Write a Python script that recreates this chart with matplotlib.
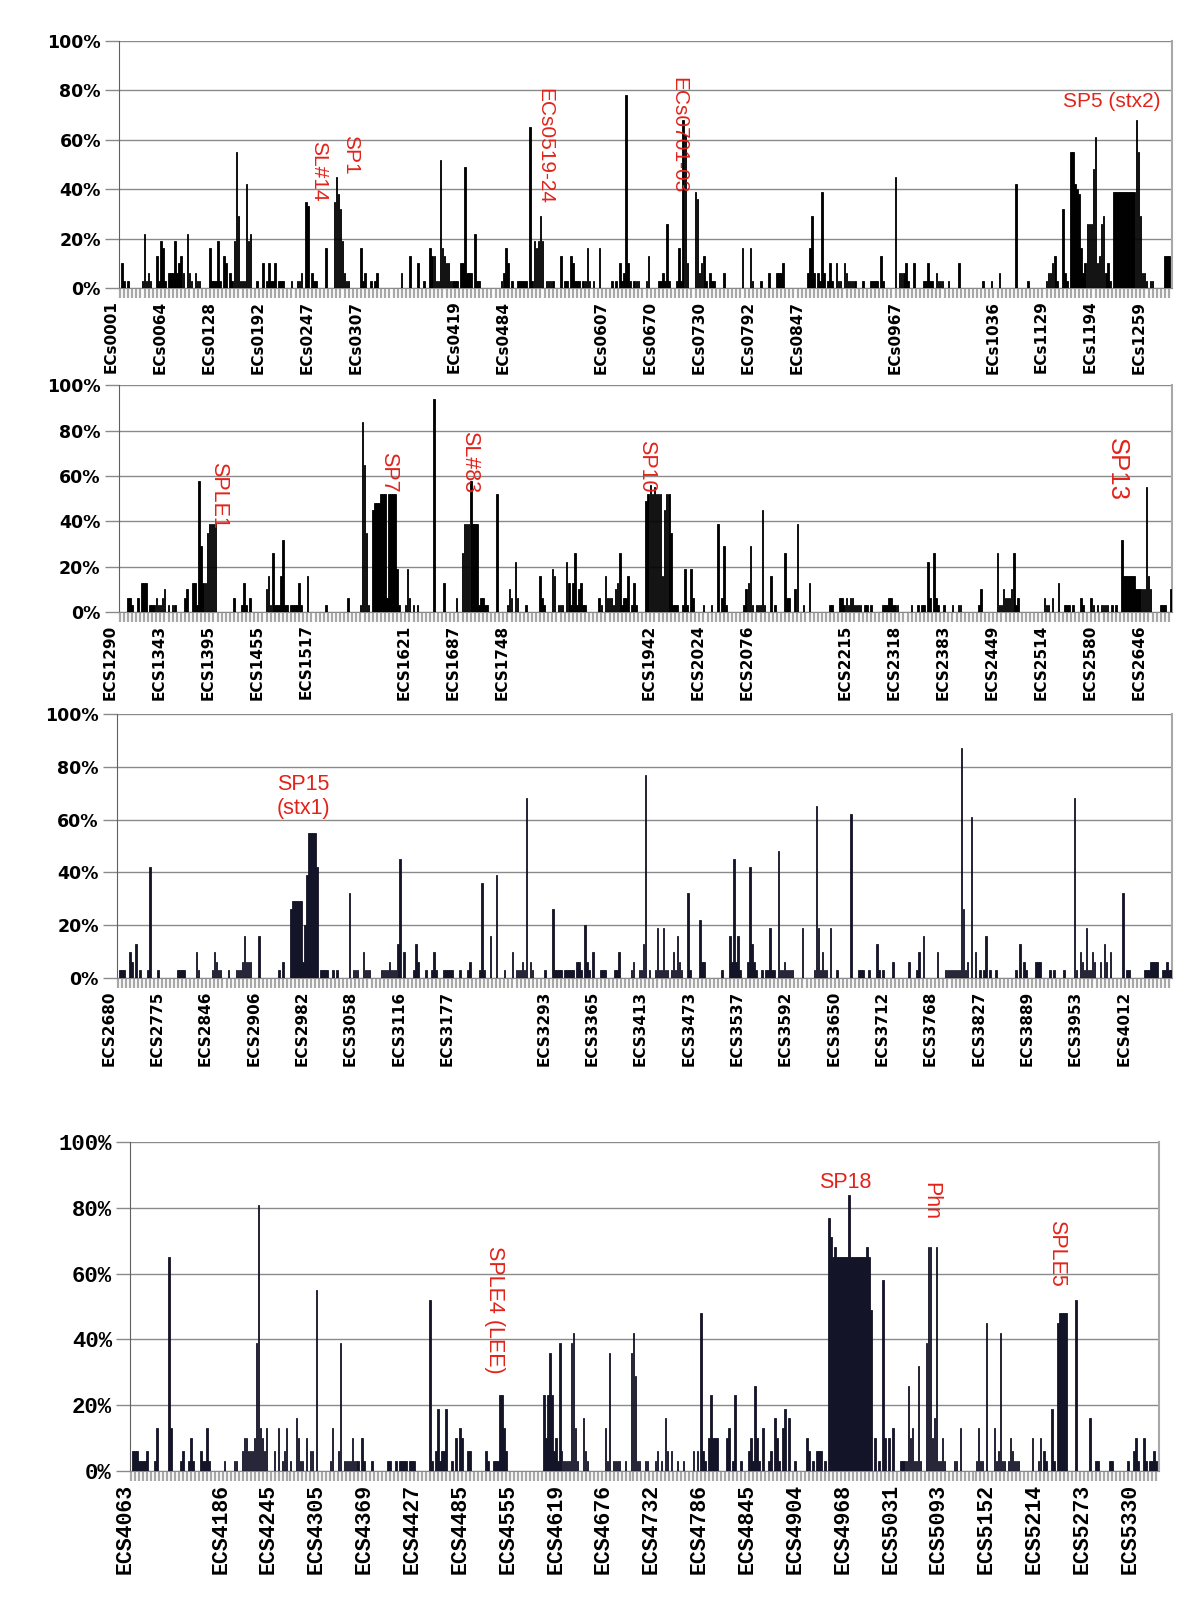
import matplotlib
matplotlib.use("Agg")
import matplotlib.pyplot as plt
from matplotlib.ticker import MultipleLocator
from matplotlib.transforms import ScaledTranslation

pct_ticks = [0, 20, 40, 60, 80, 100]
slot = 24  # categories between two label slots

p1_labels = ["ECs0001", "ECs0064", "ECs0128", "ECs0192", "ECs0247", "ECs0307", "", "ECs0419",
             "ECs0484", "", "ECs0607", "ECs0670", "ECs0730", "ECs0792", "ECs0847", "", "ECs0967",
             "", "ECs1036", "ECs1129", "ECs1194", "ECs1259"]
p2_labels = ["ECS1290", "ECS1343", "ECS1395", "ECS1455", "ECS1517", "", "ECS1621", "ECS1687",
             "ECS1748", "", "", "ECS1942", "ECS2024", "ECS2076", "", "ECS2215", "ECS2318",
             "ECS2383", "ECS2449", "ECS2514", "ECS2580", "ECS2646"]
p3_labels = ["ECS2680", "ECS2775", "ECS2846", "ECS2906", "ECS2982", "ECS3058", "ECS3116", "ECS3177",
             "", "ECS3293", "ECS3365", "ECS3413", "ECS3473", "ECS3537", "ECS3592", "ECS3650",
             "ECS3712", "ECS3768", "ECS3827", "ECS3889", "ECS3953", "ECS4012"]
p4_labels = ["ECS4063", "", "ECS4186", "ECS4245", "ECS4305", "ECS4369", "ECS4427", "ECS4485",
             "ECS4555", "ECS4619", "ECS4676", "ECS4732", "ECS4786", "ECS4845", "ECS4904", "ECS4968",
             "ECS5031", "ECS5093", "ECS5152", "ECS5214", "ECS5273", "ECS5330"]

# (category index, percent)
p1_bars = [(1, 10), (2, 3), (4, 3), (11, 3), (12, 22), (13, 3), (14, 6), (15, 3), (18, 13), (19, 3),
           (20, 19), (21, 16), (22, 3), (24, 6), (25, 6), (26, 6), (27, 19), (28, 6), (29, 10), (30, 13),
           (31, 6), (33, 22), (34, 6), (35, 3), (37, 6), (38, 3), (39, 3), (44, 16), (45, 3), (46, 3),
           (47, 3), (48, 19), (49, 3), (51, 13), (52, 10), (54, 6), (55, 3), (56, 19), (57, 55), (58, 29),
           (59, 3), (60, 3), (61, 3), (62, 42), (63, 19), (64, 22), (67, 3), (70, 10), (72, 3), (73, 10),
           (74, 3), (75, 3), (76, 10), (78, 3), (79, 3), (80, 3), (84, 3), (87, 3), (88, 3), (89, 6),
           (91, 35), (92, 33), (94, 6), (95, 3), (96, 3), (101, 16), (105, 35), (106, 45), (107, 38),
           (108, 32), (109, 19), (110, 6), (111, 3), (112, 3), (118, 16), (119, 3), (120, 6), (123, 3),
           (125, 3), (126, 6), (138, 6), (142, 13), (146, 10), (149, 3), (152, 16), (153, 13), (154, 13),
           (155, 3), (156, 3), (157, 52), (158, 16), (159, 13), (160, 10), (161, 10), (162, 3), (163, 3),
           (164, 3), (165, 3), (167, 10), (168, 10), (169, 49), (170, 6), (171, 6), (172, 6), (174, 22),
           (175, 3), (176, 3), (187, 3), (188, 6), (189, 16), (190, 10), (192, 3), (195, 3), (196, 3),
           (197, 3), (198, 3), (199, 3), (201, 65), (202, 3), (203, 19), (204, 16), (205, 19), (206, 29),
           (207, 19), (209, 3), (210, 3), (211, 3), (212, 3), (216, 13), (218, 3), (219, 3), (221, 13),
           (222, 10), (223, 3), (224, 3), (225, 3), (227, 3), (228, 3), (229, 16), (230, 3), (232, 3),
           (235, 16), (241, 3), (243, 3), (245, 10), (246, 3), (247, 6), (248, 78), (249, 10), (250, 3),
           (252, 3), (253, 3), (254, 3), (258, 3), (259, 13), (264, 3), (265, 3), (266, 6), (267, 3),
           (268, 26), (269, 3), (273, 3), (274, 16), (275, 3), (276, 68), (277, 62), (278, 10), (282, 39),
           (283, 36), (284, 6), (285, 10), (286, 13), (287, 3), (289, 6), (290, 3), (291, 3), (296, 6),
           (305, 16), (309, 16), (310, 3), (314, 3), (318, 6), (322, 6), (323, 6), (324, 6), (325, 10),
           (337, 6), (338, 16), (339, 29), (340, 6), (342, 6), (343, 3), (344, 39), (345, 6), (347, 3),
           (348, 10), (349, 3), (351, 10), (352, 3), (353, 3), (355, 10), (356, 6), (357, 3), (358, 3),
           (359, 3), (360, 3), (364, 3), (368, 3), (369, 3), (370, 3), (371, 3), (373, 13), (374, 3),
           (380, 45), (382, 6), (383, 6), (384, 6), (385, 10), (386, 3), (389, 10), (394, 3), (395, 3),
           (396, 10), (397, 3), (398, 3), (400, 6), (401, 3), (402, 3), (403, 3), (406, 3), (411, 10),
           (423, 3), (427, 3), (431, 6), (439, 42), (445, 3), (454, 3), (455, 6), (456, 6), (457, 10),
           (458, 13), (459, 3), (462, 32), (463, 6), (464, 3), (466, 55), (467, 55), (468, 42), (469, 40),
           (470, 38), (471, 16), (472, 6), (473, 10), (474, 26), (475, 26), (476, 26), (477, 48), (478, 61),
           (479, 10), (480, 13), (481, 26), (482, 29), (483, 6), (484, 10), (485, 3), (487, 39), (488, 39),
           (489, 39), (490, 39), (491, 39), (492, 39), (493, 39), (494, 39), (495, 39), (496, 39), (497, 39),
           (498, 68), (499, 55), (500, 29), (501, 6), (502, 6), (503, 3), (505, 3), (506, 3), (512, 13),
           (513, 13), (514, 13)]

p2_bars = [(4, 6), (5, 6), (6, 3), (9, 6), (11, 13), (12, 13), (13, 13), (15, 3), (16, 3), (17, 3),
           (18, 6), (19, 3), (20, 3), (21, 6), (22, 10), (24, 3), (26, 3), (27, 3), (32, 6), (33, 10),
           (36, 13), (37, 13), (38, 3), (39, 58), (40, 29), (41, 13), (42, 13), (43, 35), (44, 39), (45, 39),
           (46, 39), (47, 39), (56, 6), (60, 3), (61, 13), (62, 3), (64, 6), (72, 10), (73, 16), (74, 3),
           (75, 26), (76, 3), (77, 3), (78, 3), (79, 16), (80, 32), (81, 3), (82, 3), (84, 3), (85, 3),
           (86, 3), (87, 3), (88, 13), (89, 3), (92, 16), (101, 3), (112, 6), (118, 3), (119, 84), (120, 65),
           (121, 35), (122, 3), (124, 45), (125, 48), (126, 48), (127, 48), (128, 52), (129, 52), (130, 52),
           (131, 6), (132, 52), (133, 52), (134, 52), (135, 52), (136, 19), (137, 3), (140, 3), (141, 19),
           (142, 6), (144, 3), (146, 3), (154, 94), (159, 13), (165, 6), (168, 26), (169, 39), (170, 39),
           (171, 39), (172, 58), (173, 39), (174, 39), (175, 39), (176, 3), (177, 6), (178, 6), (179, 3),
           (180, 3), (185, 52), (190, 3), (191, 10), (192, 6), (194, 22), (195, 6), (199, 3), (206, 16),
           (207, 6), (208, 3), (212, 19), (213, 16), (215, 3), (216, 3), (217, 3), (219, 22), (220, 13),
           (221, 3), (222, 13), (223, 26), (224, 3), (225, 10), (226, 13), (227, 3), (228, 3), (235, 6),
           (236, 3), (238, 16), (239, 6), (240, 6), (241, 6), (242, 3), (243, 10), (244, 13), (245, 26),
           (246, 3), (247, 6), (248, 6), (249, 16), (251, 3), (252, 13), (253, 3), (258, 49), (259, 52),
           (260, 56), (261, 52), (262, 55), (263, 52), (264, 52), (265, 52), (266, 16), (267, 45), (268, 52),
           (269, 52), (270, 35), (271, 3), (272, 3), (273, 3), (276, 3), (277, 19), (278, 3), (280, 19),
           (281, 6), (286, 3), (290, 3), (293, 39), (295, 6), (296, 29), (297, 3), (306, 3), (307, 10),
           (308, 13), (309, 29), (310, 3), (312, 3), (313, 3), (314, 3), (315, 45), (316, 3), (319, 16),
           (321, 3), (326, 26), (327, 6), (328, 6), (331, 10), (332, 39), (335, 3), (338, 13), (348, 3),
           (349, 3), (353, 6), (354, 6), (355, 3), (356, 6), (357, 3), (358, 6), (359, 6), (360, 3),
           (361, 3), (362, 3), (363, 3), (365, 3), (366, 3), (368, 3), (374, 3), (375, 3), (376, 3),
           (377, 6), (378, 6), (379, 3), (380, 3), (381, 3), (388, 3), (391, 3), (393, 3), (394, 3),
           (396, 22), (397, 6), (399, 26), (400, 6), (401, 3), (404, 3), (408, 3), (411, 3), (412, 3),
           (421, 3), (422, 10), (430, 26), (431, 3), (432, 3), (433, 10), (434, 6), (435, 6), (436, 6),
           (437, 10), (438, 26), (439, 3), (440, 6), (453, 6), (454, 3), (455, 3), (457, 6), (460, 13),
           (463, 3), (464, 3), (465, 3), (467, 3), (471, 6), (472, 3), (476, 6), (477, 3), (479, 3),
           (481, 3), (482, 3), (483, 3), (484, 3), (486, 3), (488, 3), (491, 32), (492, 16), (493, 16),
           (494, 16), (495, 16), (496, 16), (497, 16), (498, 10), (499, 10), (500, 10), (501, 10), (502, 10),
           (503, 55), (504, 16), (505, 10), (510, 3), (511, 3), (512, 3), (515, 10)]

p3_bars = [(1, 3), (2, 3), (3, 3), (6, 10), (7, 6), (9, 13), (11, 3), (15, 3), (16, 42), (20, 3),
           (30, 3), (31, 3), (32, 3), (33, 3), (39, 10), (40, 3), (47, 3), (48, 10), (49, 6), (50, 3),
           (51, 3), (55, 3), (59, 3), (60, 3), (61, 3), (62, 6), (63, 16), (64, 6), (65, 6), (66, 6),
           (70, 16), (80, 3), (82, 6), (86, 26), (87, 29), (88, 29), (89, 29), (90, 29), (91, 29), (92, 6),
           (93, 20), (94, 39), (95, 55), (96, 55), (97, 55), (98, 55), (99, 42), (101, 3), (102, 3),
           (103, 3), (104, 3), (107, 3), (109, 3), (115, 32), (117, 3), (118, 3), (119, 3), (122, 10),
           (123, 3), (124, 3), (125, 3), (131, 3), (132, 3), (133, 3), (134, 3), (135, 6), (136, 3),
           (137, 3), (138, 3), (139, 13), (140, 45), (142, 10), (147, 3), (148, 13), (149, 6), (153, 3),
           (156, 3), (157, 10), (158, 3), (162, 3), (163, 3), (164, 3), (165, 3), (166, 3), (170, 3),
           (174, 3), (175, 6), (180, 3), (181, 36), (182, 3), (185, 16), (188, 39), (192, 3), (196, 10),
           (198, 3), (199, 3), (200, 3), (201, 6), (202, 3), (203, 68), (205, 6), (206, 3), (212, 3),
           (216, 26), (217, 3), (218, 3), (219, 3), (220, 3), (222, 3), (223, 3), (224, 3), (225, 3),
           (226, 3), (228, 6), (229, 6), (230, 3), (232, 20), (233, 6), (234, 3), (236, 10), (240, 3),
           (241, 3), (242, 3), (247, 3), (248, 3), (249, 10), (255, 3), (256, 6), (259, 3), (260, 3),
           (261, 13), (262, 77), (264, 3), (267, 3), (268, 19), (269, 3), (270, 3), (271, 19), (272, 3),
           (273, 3), (275, 3), (276, 10), (277, 3), (278, 16), (279, 6), (280, 3), (283, 32), (284, 3),
           (289, 22), (290, 6), (291, 6), (300, 3), (304, 16), (305, 6), (306, 45), (307, 6), (308, 16),
           (309, 3), (313, 6), (314, 42), (315, 13), (316, 6), (317, 3), (320, 3), (322, 3), (323, 3),
           (324, 19), (325, 3), (326, 3), (328, 48), (329, 3), (330, 3), (331, 6), (332, 3), (333, 3),
           (334, 3), (335, 3), (340, 19), (346, 3), (347, 65), (348, 19), (349, 3), (350, 10), (351, 3),
           (352, 3), (354, 19), (357, 3), (364, 62), (368, 3), (369, 3), (370, 3), (373, 3), (377, 13),
           (378, 3), (380, 3), (385, 6), (393, 6), (397, 3), (398, 10), (400, 16), (407, 10), (411, 3),
           (412, 3), (413, 3), (414, 3), (415, 3), (416, 3), (417, 3), (418, 3), (419, 87), (420, 26),
           (421, 3), (422, 6), (424, 61), (426, 10), (428, 3), (430, 3), (431, 16), (433, 3), (436, 3),
           (446, 3), (448, 13), (450, 6), (451, 3), (456, 6), (457, 6), (458, 6), (463, 3), (465, 3),
           (470, 3), (475, 68), (476, 3), (478, 10), (479, 6), (480, 3), (481, 19), (482, 3), (483, 3),
           (484, 10), (485, 6), (488, 6), (490, 13), (491, 6), (493, 10), (499, 32), (501, 3), (502, 3),
           (510, 3), (511, 3), (512, 3), (513, 6), (514, 6), (515, 6), (516, 6), (519, 3), (520, 3),
           (521, 6), (522, 3), (523, 3)]

p4_bars = [(1, 6), (2, 6), (3, 6), (4, 3), (5, 3), (6, 3), (7, 3), (8, 6), (12, 3), (13, 13),
           (19, 65), (20, 13), (25, 3), (26, 6), (29, 3), (30, 10), (31, 3), (35, 6), (36, 3), (37, 3),
           (38, 13), (39, 3), (47, 3), (52, 3), (53, 3), (56, 6), (57, 10), (58, 10), (59, 6), (60, 6),
           (61, 6), (62, 10), (63, 39), (64, 81), (65, 13), (66, 10), (67, 6), (68, 13), (72, 6), (74, 13),
           (76, 3), (77, 6), (78, 13), (80, 3), (83, 16), (84, 10), (85, 3), (86, 3), (88, 10), (90, 6),
           (91, 6), (93, 55), (100, 3), (101, 13), (104, 6), (105, 39), (107, 3), (108, 3), (109, 3),
           (110, 3), (111, 10), (112, 3), (113, 3), (114, 3), (116, 10), (117, 3), (121, 3), (129, 3),
           (130, 3), (133, 3), (135, 3), (136, 3), (137, 3), (138, 3), (140, 3), (141, 3), (142, 3),
           (150, 52), (151, 3), (153, 6), (154, 19), (155, 3), (156, 6), (157, 6), (158, 19), (161, 3),
           (163, 10), (165, 13), (166, 10), (169, 6), (170, 6), (178, 6), (179, 3), (182, 3), (183, 3),
           (184, 3), (185, 23), (186, 23), (187, 13), (188, 6), (207, 23), (208, 10), (209, 23), (210, 36),
           (211, 23), (212, 6), (213, 10), (214, 3), (215, 39), (216, 6), (217, 3), (218, 3), (219, 3),
           (220, 3), (221, 39), (222, 42), (223, 13), (224, 3), (227, 16), (228, 6), (229, 3), (238, 13),
           (239, 3), (240, 36), (242, 3), (243, 3), (244, 3), (245, 3), (248, 3), (251, 36), (252, 42),
           (253, 29), (254, 3), (255, 3), (258, 3), (259, 3), (263, 3), (264, 6), (266, 3), (268, 16),
           (269, 6), (271, 6), (274, 3), (277, 3), (282, 6), (284, 6), (286, 48), (287, 6), (288, 3),
           (290, 10), (291, 23), (292, 10), (293, 10), (294, 10), (299, 10), (300, 13), (302, 3), (303, 23),
           (306, 3), (310, 6), (311, 10), (312, 3), (313, 26), (314, 10), (315, 3), (317, 13), (320, 3),
           (321, 6), (323, 16), (324, 10), (325, 3), (327, 13), (328, 19), (330, 16), (333, 3), (339, 10),
           (340, 6), (342, 3), (344, 6), (345, 6), (346, 6), (348, 3), (350, 77), (351, 71), (352, 65),
           (353, 68), (354, 65), (355, 65), (356, 65), (357, 65), (358, 65), (359, 65), (360, 84), (361, 65),
           (362, 65), (363, 65), (364, 65), (365, 65), (366, 65), (367, 65), (368, 65), (369, 68), (370, 65),
           (371, 49), (373, 10), (375, 3), (377, 58), (378, 10), (380, 10), (382, 13), (386, 3), (387, 3),
           (388, 3), (389, 3), (390, 26), (391, 10), (392, 13), (393, 3), (394, 3), (395, 32), (396, 3),
           (399, 39), (400, 68), (401, 68), (402, 10), (403, 16), (404, 68), (405, 3), (406, 3), (407, 10),
           (408, 3), (413, 3), (414, 3), (416, 13), (424, 3), (425, 13), (426, 3), (427, 3), (429, 45),
           (433, 13), (434, 3), (435, 6), (436, 42), (437, 3), (438, 3), (440, 3), (441, 10), (442, 6),
           (443, 3), (444, 3), (445, 3), (452, 10), (455, 3), (456, 10), (458, 6), (459, 3), (462, 19),
           (463, 3), (465, 45), (466, 48), (467, 48), (468, 48), (469, 48), (474, 52), (481, 16), (484, 3),
           (485, 3), (491, 3), (492, 3), (500, 3), (503, 6), (504, 10), (505, 3), (508, 10), (509, 3),
           (511, 3), (512, 3), (513, 6), (514, 3)]

# (text, category, percent, rotation, fontsize)
p1_notes = [("SL#14", 97.3, 47.4, 270, 15), ("SP1", 113, 53.8, 270, 15),
            ("ECs0519-24", 208, 57.5, 270, 15), ("ECs0701-03", 274, 62, 270, 15),
            ("SP5 (stx2)", 486, 75.3, 0, 15)]
p2_notes = [("SPLE1", 48.7, 51.4, 270, 15.5), ("SP7", 132, 61.8, 270, 15.5),
            ("SL#83", 171.6, 66.2, 270, 15.5), ("SP10", 258.3, 64.2, 270, 15.5),
            ("SP13", 488.7, 62.7, 270, 18.5)]
p3_notes = [("SP15\n(stx1)", 92, 68.7, 0, 15.5)]
p4_notes = [("SPLE4 (LEE)", 182.2, 48.9, 270, 15.5), ("SP18", 358.2, 87.8, 0, 15.5),
            ("Phn", 401.3, 82, 270, 15.5), ("SPLE5", 464.4, 66.1, 270, 15.5)]

panels = [
    dict(rect=[0.0992, 0.8200, 0.8775, 0.1544], n=516, bars=p1_bars, labels=p1_labels,
         notes=p1_notes, color="black", xfont="DejaVu Sans", xsize=11,
         yfont="DejaVu Sans", ysize=12.5, shift=-9),
    dict(rect=[0.0988, 0.6175, 0.8778, 0.1416], n=516, bars=p2_bars, labels=p2_labels,
         notes=p2_notes, color="black", xfont="DejaVu Sans", xsize=11,
         yfont="DejaVu Sans", ysize=12.5, shift=-9),
    dict(rect=[0.0973, 0.3888, 0.8794, 0.1650], n=524, bars=p3_bars, labels=p3_labels,
         notes=p3_notes, color="#141428", xfont="DejaVu Sans", xsize=11,
         yfont="DejaVu Sans", ysize=12.5, shift=-9),
    dict(rect=[0.1083, 0.0806, 0.8575, 0.2056], n=516, bars=p4_bars, labels=p4_labels,
         notes=p4_notes, color="#141428", xfont="Liberation Mono", xsize=15.5,
         yfont="Liberation Mono", ysize=16, shift=-6),
]

red = "#e2231a"
fig = plt.figure(figsize=(12, 16), dpi=100)

for p in panels:
    ax = fig.add_axes(p["rect"])
    idx = [b[0] for b in p["bars"]]
    val = [b[1] for b in p["bars"]]
    ax.bar(idx, val, width=0.8, color=p["color"], edgecolor=p["color"], linewidth=0.6, zorder=3)

    ax.set_xlim(-0.5, p["n"] - 0.5)
    ax.set_ylim(0, 100)
    ax.set_yticks(pct_ticks)
    ax.set_yticklabels([f"{v}%" for v in pct_ticks], fontfamily=p["yfont"],
                       fontweight="bold", fontsize=p["ysize"])
    ax.yaxis.grid(True, color="#8a8a8a", linewidth=1.0, zorder=0)
    ax.set_axisbelow(True)
    ax.tick_params(axis="y", length=10, width=1, color="#8a8a8a", pad=3)

    ticks = [k * slot for k in range(len(p["labels"]))]
    ax.set_xticks(ticks)
    ax.set_xticklabels(p["labels"], rotation=90, fontfamily=p["xfont"],
                       fontweight="bold", fontsize=p["xsize"])
    ax.xaxis.set_minor_locator(MultipleLocator(2))
    ax.tick_params(axis="x", which="both", length=7, width=1.6, color="#a8a8a8", pad=2)
    off = ScaledTranslation(p["shift"] / 100, 0, fig.dpi_scale_trans)
    for lab in ax.get_xticklabels():
        lab.set_transform(lab.get_transform() + off)

    ax.spines["top"].set_visible(False)
    ax.spines["left"].set_color("#606060")
    ax.spines["right"].set_color("#a8a8a8")
    ax.spines["right"].set_linewidth(1.5)
    ax.spines["bottom"].set_color("#8a8a8a")

    for text, x, y, rot, fs in p["notes"]:
        ax.text(x, y, text, color=red, fontsize=fs, fontfamily="Liberation Sans",
                rotation=rot, ha="center", va="center", zorder=5)

fig.savefig("out.png", dpi=100)
